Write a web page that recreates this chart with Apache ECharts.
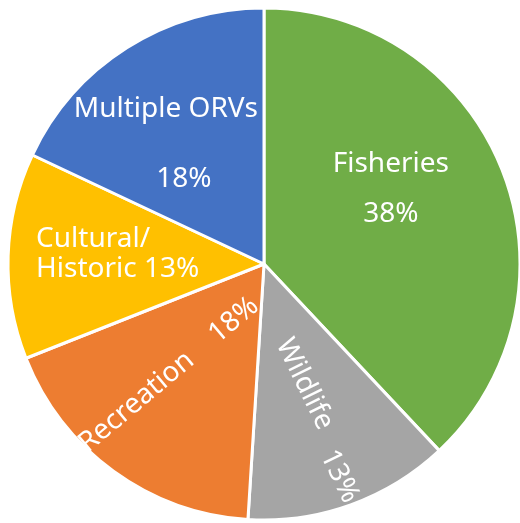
<!DOCTYPE html>
<html><head><meta charset="utf-8">
<script src="https://cdn.jsdelivr.net/npm/echarts@6/dist/echarts.min.js"></script>
<style>html,body{margin:0;padding:0;background:#fff}#c{width:520px;height:523px}</style>
</head><body><div id="c"></div>
<script>
// Data
const categories = ['Fisheries', 'Wildlife', 'Recreation', 'Cultural/ Historic', 'Multiple ORVs'];
const values = [38, 13, 18, 13, 18];

// Styles
const colors = ['#70AD47', '#A5A5A5', '#ED7D31', '#FFC000', '#4472C4'];
const labelCfg = [
  { sep: '\n', lh: 50, rotate: 0, dx: 5, dy: -27, align: 'center', pad: 0, padTop: 0 },
  { sep: '   ', lh: 34, rotate: -64, dx: 34, dy: 2, align: 'center', pad: 0, padTop: 18 },
  { sep: '    ', lh: 34, rotate: 40, dx: -17, dy: -8, align: 'center', pad: 0, padTop: 0 },
  { sep: ' ', lh: 30, rotate: 0, dx: -97, dy: -6, align: 'left', pad: 0, padTop: 0 },
  { sep: '\n', lh: 70, rotate: 0, dx: -28, dy: -9, align: 'center', pad: 36, padTop: 0 }
];
const FONT = '"Noto Sans", sans-serif';
const FS = 28;

const data = categories.map((name, i) => {
  const c = labelCfg[i];
  return {
    name: name,
    value: values[i],
    itemStyle: { color: colors[i] },
    label: {
      rotate: c.rotate,
      rich: {
        n: { fontSize: FS, fontFamily: FONT, color: '#fff', lineHeight: c.lh },
        p: { fontSize: FS, fontFamily: FONT, color: '#fff', lineHeight: c.lh, padding: [c.padTop, 0, 0, c.pad] }
      }
    }
  };
});

const chart = echarts.init(document.getElementById('c'), null, { renderer: 'canvas' });
chart.setOption({
  animation: false,
  series: [{
    type: 'pie',
    center: [264, 264],
    radius: 256,
    startAngle: 90,
    clockwise: true,
    silent: true,
    itemStyle: { borderColor: '#fff', borderWidth: 3 },
    labelLine: { show: false },
    label: {
      show: true,
      position: 'inside',
      color: '#fff',
      fontSize: FS,
      fontFamily: FONT,
      formatter: function (p) {
        const c = labelCfg[p.dataIndex];
        const nm = p.name.replace('/ ', '/\n');
        return '{n|' + nm + '}' + (c.sep === '\n' ? '\n' : '{n|' + c.sep + '}') + '{p|' + Math.round(p.percent) + '%}';
      }
    },
    labelLayout: function (params) {
      const c = labelCfg[params.dataIndex];
      return { dx: c.dx, dy: c.dy, align: c.align };
    },
    data: data
  }]
});
</script>
</body></html>
